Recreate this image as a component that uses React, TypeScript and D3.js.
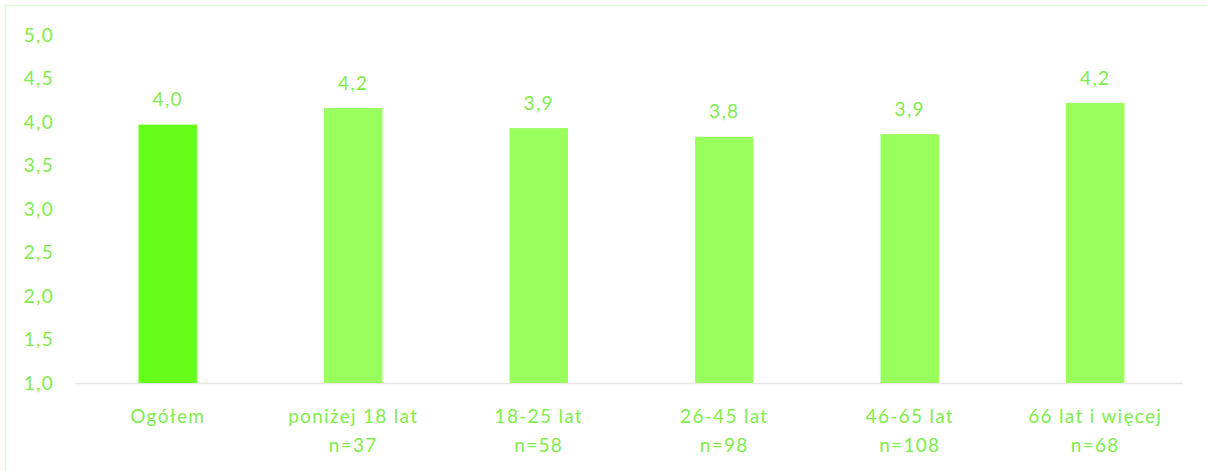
import React from "react";
import * as d3 from "d3";

const categories = ["Ogółem", "poniżej 18 lat", "18-25 lat", "26-45 lat", "46-65 lat", "66 lat i więcej"];
const sampleSizes = ["", "n=37", "n=58", "n=98", "n=108", "n=68"];
const values = [3.97, 4.16, 3.93, 3.83, 3.86, 4.22];
const yTicks = [1.0, 1.5, 2.0, 2.5, 3.0, 3.5, 4.0, 4.5, 5.0];

const W = 1207;
const H = 471;
const FONT = "Lato, 'Open Sans', sans-serif";
const TEXT = "#80ec4c";
const FS = 19;
const LS = 1.3;

export default function App() {
  const x = d3.scaleBand<string>().domain(categories).range([75, 1188]).padding(0);
  const y = d3.scaleLinear().domain([1, 5]).range([383, 35]);
  const bw = x.bandwidth() * 0.315;
  const fmt = (v: number) => v.toFixed(1).replace(".", ",");

  return (
    <svg
      width={W}
      height={H}
      style={{ position: "absolute", left: 0, top: 0, background: "#fff" }}
      fontFamily={FONT}
    >
      <rect x={5.5} y={5.5} width={W} height={H} fill="none" stroke="#dcfcd0" strokeWidth={1.5} />
      {yTicks.map((t) => (
        <text key={t} x={54} y={y(t)} dy="0.35em" textAnchor="end" fontSize={FS} letterSpacing={LS} fill={TEXT}>
          {fmt(t)}
        </text>
      ))}
      <line x1={75} x2={1183} y1={y(1) + 0.5} y2={y(1) + 0.5} stroke="#e6e6e6" strokeWidth={1.5} />
      {categories.map((c, i) => {
        const cx = (x(c) as number) + x.bandwidth() / 2;
        return (
          <g key={c}>
            <rect
              x={cx - bw / 2}
              y={y(values[i])}
              width={bw}
              height={y(1) - y(values[i])}
              fill={i === 0 ? "#66ff1a" : "#99ff5c"}
            />
            <text x={cx} y={y(values[i]) - 25} dy="0.35em" textAnchor="middle" fontSize={FS} letterSpacing={LS} fill={TEXT}>
              {fmt(values[i])}
            </text>
            <text x={cx} y={416} dy="0.35em" textAnchor="middle" fontSize={FS} letterSpacing={LS} fill={TEXT}>
              {c}
            </text>
            {sampleSizes[i] && (
              <text x={cx} y={445} dy="0.35em" textAnchor="middle" fontSize={FS} letterSpacing={LS} fill={TEXT}>
                {sampleSizes[i]}
              </text>
            )}
          </g>
        );
      })}
    </svg>
  );
}
